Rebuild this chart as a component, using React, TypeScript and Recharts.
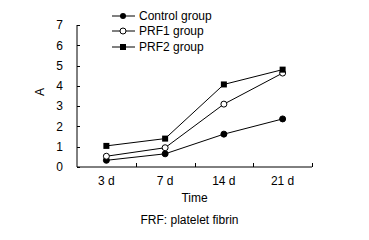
import { LineChart, Line, XAxis, YAxis, Legend } from 'recharts';

const days = ['3 d', '7 d', '14 d', '21 d'];
const control = [0.33, 0.65, 1.62, 2.37];
const prf1 = [0.53, 0.95, 3.1, 4.63];
const prf2 = [1.04, 1.4, 4.07, 4.8];
const yTicks = [0, 1, 2, 3, 4, 5, 6, 7];

const data = days.map((day, i) => ({
  day,
  control: control[i],
  prf1: prf1[i],
  prf2: prf2[i],
}));

const font = '"Liberation Sans", Arial, sans-serif';
const tickSize = 6;
const xTickMargin = 3;
const yTickMargin = 8;

// label at band centre, small inward tick at right edge of each band
const DayTick = (props: any) => {
  const { x, y, payload } = props;
  const half = payload.offset ?? props.width / days.length / 2;
  const axisY = y - tickSize - xTickMargin;
  const lx = Math.round(x + half) + 0.5;
  return (
    <g>
      <line x1={lx} y1={axisY} x2={lx} y2={axisY - 4} stroke="#000" strokeWidth={1} />
      <text x={x} y={y} dy="0.71em" textAnchor="middle" fill="#000" fontSize={12} fontFamily={font}>
        {payload.value}
      </text>
    </g>
  );
};

// inward tick on the y axis
const ValueTick = (props: any) => {
  const { x, y, payload } = props;
  const axisX = x + tickSize + yTickMargin;
  const ly = Math.round(y) + 0.5;
  return (
    <g>
      <line x1={axisX} y1={ly} x2={axisX + 3} y2={ly} stroke="#000" strokeWidth={1} />
      <text x={x} y={y} dy="0.355em" textAnchor="end" fill="#000" fontSize={12} fontFamily={font}>
        {payload.value}
      </text>
    </g>
  );
};

const SquareDot = (props: any) => {
  const { cx, cy, key } = props;
  if (cx == null || cy == null) return <g key={key} />;
  return <rect key={key} x={cx - 3} y={cy - 3} width={6} height={6} fill="#000" />;
};

const marker = (kind: string) => {
  if (kind === 'square') return <rect x={8} y={4} width={6} height={6} fill="#000" />;
  if (kind === 'open') return <circle cx={11} cy={7} r={3} fill="#fff" stroke="#000" />;
  return <circle cx={11} cy={7} r={3} fill="#000" />;
};

const legendItems = [
  { label: 'Control group', kind: 'filled' },
  { label: 'PRF1 group', kind: 'open' },
  { label: 'PRF2 group', kind: 'square' },
];

const LegendBox = () => (
  <div style={{ fontFamily: font, fontSize: 12, color: '#000' }}>
    {legendItems.map((it) => (
      <div key={it.label} style={{ display: 'flex', alignItems: 'center', height: 15.5 }}>
        <svg width={23} height={14} style={{ marginRight: 4 }}>
          <line x1={0} y1={7} x2={23} y2={7} stroke="#000" />
          {marker(it.kind)}
        </svg>
        <span>{it.label}</span>
      </div>
    ))}
  </div>
);

export default function App() {
  return (
    <div style={{ position: 'absolute', left: 0, top: 0, width: 369, height: 240, background: '#fff', fontFamily: font }}>
      <LineChart width={369} height={240} data={data} margin={{ top: 25, right: 57, bottom: 0, left: 0 }}>
        <XAxis
          dataKey="day"
          scale="band"
          interval={0}
          tickLine={false}
          tickSize={tickSize}
          tickMargin={xTickMargin}
          height={73}
          stroke="#000"
          tick={<DayTick />}
          label={{ value: 'Time', position: 'insideBottom', offset: 38, fill: '#000', fontSize: 12, fontFamily: font }}
        />
        <YAxis
          width={77}
          domain={[0, 7]}
          ticks={yTicks}
          interval={0}
          tickLine={false}
          tickSize={tickSize}
          tickMargin={yTickMargin}
          stroke="#000"
          tick={<ValueTick />}
          label={{ value: 'A', angle: -90, position: 'insideLeft', offset: 40, fill: '#000', fontSize: 12, fontFamily: font }}
        />
        <Legend
          layout="vertical"
          align="center"
          verticalAlign="middle"
          content={<LegendBox />}
          wrapperStyle={{ left: 112, top: 8, width: 'auto' }}
        />
        <Line
          dataKey="control"
          name="Control group"
          stroke="#000"
          strokeWidth={1}
          dot={{ r: 3, fill: '#000', stroke: '#000', strokeWidth: 1 }}
          isAnimationActive={false}
        />
        <Line
          dataKey="prf1"
          name="PRF1 group"
          stroke="#000"
          strokeWidth={1}
          dot={{ r: 3, fill: '#fff', stroke: '#000', strokeWidth: 1 }}
          isAnimationActive={false}
        />
        <Line
          dataKey="prf2"
          name="PRF2 group"
          stroke="#000"
          strokeWidth={1}
          dot={SquareDot}
          isAnimationActive={false}
        />
      </LineChart>
      <div style={{ position: 'absolute', left: 0, width: 379, top: 213, textAlign: 'center', fontSize: 12, color: '#000' }}>
        FRF: platelet fibrin
      </div>
    </div>
  );
}
